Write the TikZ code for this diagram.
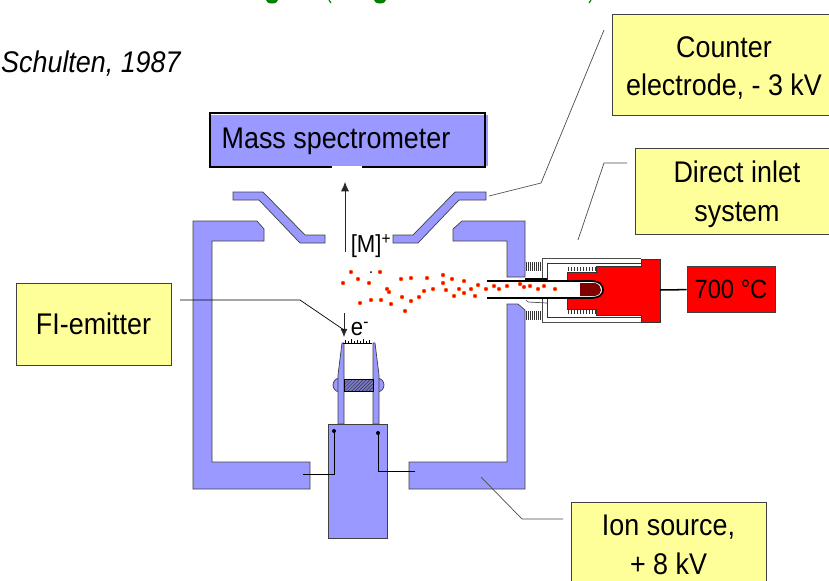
\documentclass[tikz,border=0pt]{standalone}
\usepackage{fontspec}
\setmainfont[FakeStretch=0.9]{Liberation Sans}
\usetikzlibrary{arrows.meta,patterns}
\definecolor{sourceblue}{HTML}{9999FF}
\definecolor{notepaper}{HTML}{FFFF99}
\definecolor{titlegreen}{HTML}{008000}
\tikzset{
  metal/.style={fill=sourceblue, draw=black!75, line width=0.6pt},
  notebox/.style={draw=black!75, fill=notepaper, line width=0.7pt, align=center, inner sep=0pt, font=\fontsize{25.5}{33}\selectfont},
  leader/.style={draw=black!70, line width=0.6pt},
  wire/.style={draw=black, line width=0.8pt},
  iondot/.style={fill=red, draw=orange, line width=0.3pt},
  tubeline/.style={draw=black, line width=1.5pt},
  spring/.style={draw=black!80, line width=0.7pt}
}
\begin{document}
\begin{tikzpicture}[x=0.03cm,y=-0.03cm]
\useasboundingbox (0,0) rectangle (829,581);

% Cut-off title and citation
\fill[titlegreen] (272,0) ellipse (6 and 3.5);
\fill[titlegreen] (380,0) ellipse (6 and 3.5);
\draw[titlegreen, line width=1pt] (329,0) -- (331,3);
\draw[titlegreen, line width=1pt] (591,0) -- (589,3);
\node[anchor=base west, inner sep=0pt, font=\fontsize{25.5}{28}\selectfont\itshape] (citation) at (1,72) {Schulten, 1987};

% Mass spectrometer
\fill[sourceblue] (211,115) rectangle (488,166);
\draw[black, line width=1.1pt] (362,167) -- (485,167) -- (485,113) -- (210,113) -- (210,167) -- (332,167);
\node[inner sep=0pt, font=\fontsize{25.5}{28}\selectfont] (massspec) at (336,141) {Mass spectrometer};

% Counter electrode plates
\draw[metal] (233,192) -- (263,192) -- (305,235) -- (325,235) -- (325,243) -- (300,243) -- (259,200) -- (233,200) -- cycle;
\draw[metal] (486,192) -- (455,192) -- (413,235) -- (393,235) -- (393,243) -- (418,243) -- (459,200) -- (486,200) -- cycle;

% Ion source walls
\draw[metal] (193,221) -- (257,221) -- (264,229) -- (264,241) -- (212,241) -- (212,462) -- (310,462) -- (310,489) -- (193,489) -- cycle;
\draw[metal] (462,221) -- (525,221) -- (525,277) -- (507,277) -- (507,241) -- (453,241) -- (453,229) -- cycle;
\draw[metal] (507,304) -- (518,304) -- (525,310) -- (525,489) -- (409,489) -- (409,462) -- (507,462) -- cycle;

% FI emitter on its block
\draw[metal] (340,385) ellipse (7 and 7);
\draw[metal] (377,385) ellipse (7 and 7);
\draw[metal] (338,424) -- (338,375) -- (342,343) -- (344,343) -- (344,424) -- cycle;
\draw[metal] (373,424) -- (373,343) -- (375,343) -- (379,375) -- (379,424) -- cycle;
\fill[sourceblue!80!black] (344,379) rectangle (373,391);
\draw[draw=black, line width=0.8pt, pattern=north east lines, pattern color=black!80] (344,379) rectangle (373,391);
\draw[metal] (328,424) rectangle (387,538);
\draw[black, line width=0.5pt] (343,343) -- (372,343) (345,343) -- (345,340) (348,343) -- (348,341) (351,343) -- (351,339) (354,343) -- (354,341) (357,343) -- (357,340) (360,343) -- (360,341) (363,343) -- (363,339) (366,343) -- (366,341) (369,343) -- (369,340);
\coordinate (leftpin) at (334,431);
\coordinate (rightpin) at (378,433);
\coordinate (leftwall) at (303,474);
\coordinate (rightwall) at (415,471);
\fill (leftpin) circle (2);
\fill (rightpin) circle (2);
\draw[wire] (leftpin) |- (leftwall);
\draw[wire] (rightpin) |- (rightwall);

% Direct inlet housing
\draw[draw=black!70, fill=white, line width=0.8pt] (641,258) -- (542,258) -- (542,322) -- (641,322);
\draw[draw=black!80, line width=0.7pt] (641,263) -- (547,263) -- (547,317) -- (641,317);
\draw[draw=black!80, fill=red, line width=0.7pt] (641,259) -- (660,259) -- (660,322) -- (641,322) -- (641,315) -- (596,315) -- (596,309) -- (567,309) -- (567,272) -- (596,272) -- (596,266) -- (641,266) -- cycle;
\draw[spring] (568,267) -- (568,271) (571,267) -- (571,271) (574,267) -- (574,271) (577,267) -- (577,271) (580,267) -- (580,271) (583,267) -- (583,271) (586,267) -- (586,271) (589,267) -- (589,271) (592,267) -- (592,271) (595,267) -- (595,271);
\draw[spring] (568,310) -- (568,314) (571,310) -- (571,314) (574,310) -- (574,314) (577,310) -- (577,314) (580,310) -- (580,314) (583,310) -- (583,314) (586,310) -- (586,314) (589,310) -- (589,314) (592,310) -- (592,314) (595,310) -- (595,314);
\draw[spring] (526,262) -- (526,271) (528,262) -- (528,271) (530,262) -- (530,271) (532,262) -- (532,271) (534,262) -- (534,271) (536,262) -- (536,271) (538,262) -- (538,271) (540,262) -- (540,271);
\draw[spring] (526,311) -- (526,320) (528,311) -- (528,320) (530,311) -- (530,320) (532,311) -- (532,320) (534,311) -- (534,320) (536,311) -- (536,320) (538,311) -- (538,320) (540,311) -- (540,320);
\draw[draw=black!70, line width=0.6pt] (526,300) -- (528,302) -- (547,303);
\fill[black] (525,278) rectangle (547,282);

% Probe tube and sample
\fill[white] (487,281) -- (590,281) .. controls (600,281) and (603,285) .. (603,290) .. controls (603,294) and (600,298) .. (590,298) -- (487,298) -- cycle;
\fill[red!50!black] (580,283) -- (595,283) .. controls (599,284) and (601,287) .. (601,290) .. controls (601,293) and (599,295) .. (595,296) -- (580,296) -- cycle;
\draw[tubeline] (487,281) -- (590,281) .. controls (600,281) and (603,285) .. (603,290) .. controls (603,294) and (600,298) .. (590,298) -- (487,298);

% Ions
\fill[black] (371,272) circle (1);
\draw[iondot] (351,272) circle (2);
\draw[iondot] (380,272) circle (2);
\draw[iondot] (343,283) circle (2);
\draw[iondot] (358,279) circle (2);
\draw[iondot] (369,283) circle (2);
\draw[iondot] (387,289) circle (2);
\draw[iondot] (389,292) circle (2);
\draw[iondot] (401,279) circle (2);
\draw[iondot] (411,278) circle (2);
\draw[iondot] (427,278) circle (2);
\draw[iondot] (443,275) circle (2);
\draw[iondot] (452,279) circle (2);
\draw[iondot] (464,281) circle (2);
\draw[iondot] (443,283) circle (2);
\draw[iondot] (446,290) circle (2);
\draw[iondot] (459,289) circle (2);
\draw[iondot] (464,293) circle (2);
\draw[iondot] (454,296) circle (2);
\draw[iondot] (471,289) circle (2);
\draw[iondot] (478,285) circle (2);
\draw[iondot] (475,296) circle (2);
\draw[iondot] (486,289) circle (2);
\draw[iondot] (494,286) circle (2);
\draw[iondot] (499,289) circle (2);
\draw[iondot] (507,286) circle (2);
\draw[iondot] (433,289) circle (2);
\draw[iondot] (424,291) circle (2);
\draw[iondot] (419,297) circle (2);
\draw[iondot] (411,301) circle (2);
\draw[iondot] (402,297) circle (2);
\draw[iondot] (405,311) circle (2);
\draw[iondot] (391,304) circle (2);
\draw[iondot] (381,300) circle (2);
\draw[iondot] (371,300) circle (2);
\draw[iondot] (360,303) circle (2);
\draw[iondot] (520,284) circle (2);
\draw[iondot] (524,287) circle (2);
\draw[iondot] (530,286) circle (2);
\draw[iondot] (538,289) circle (2);
\draw[iondot] (544,286) circle (2);
\draw[iondot] (555,289) circle (2);

% Ion path and labels at the source
\node[inner sep=0pt, font=\fontsize{21}{24}\selectfont] (molion) at (371,246) {[M]\textsuperscript{+}};
\node[inner sep=0pt, font=\fontsize{21}{24}\selectfont] (electron) at (360,329) {e\textsuperscript{-}};
\coordinate (iontail) at (345,252);
\coordinate (ionhead) at (345,182);
\draw[-{Latex[length=8pt,width=7pt]}, black!85, line width=0.7pt] (iontail) -- (ionhead);
\coordinate (emittertail) at (344,313);
\coordinate (emitterhead) at (344,337);
\draw[-{Latex[length=7pt,width=6pt]}, black!85, line width=0.7pt] (emittertail) -- (emitterhead);

% Note boxes
\node[notebox, minimum width=6.72cm, minimum height=3.03cm] (counter) at (724,64.5) {\rule{0pt}{24pt}Counter\\electrode, - 3 kV};
\node[notebox, minimum width=6.12cm, minimum height=2.58cm] (inlet) at (737,191) {\rule{0pt}{24pt}Direct inlet\\system};
\node[notebox, minimum width=5.85cm, minimum height=2.58cm] (ionsource) at (668.5,545) {Ion source,\\+ 8 kV};
\node[notebox, minimum width=4.65cm, minimum height=2.46cm] (emitter) at (93.5,324) {FI-emitter};
\node[draw=black!75, fill=red, line width=0.7pt, inner sep=0pt, minimum width=2.64cm, minimum height=1.38cm, font=\fontsize{22.5}{25}\selectfont] (heater) at (731,289) {700 °C};
\coordinate (heaterport) at (660,290);
\draw[black, line width=1.3pt] (heaterport) -- (heater);

% Leaders, with free ends
\coordinate (counterend) at (604,30);
\coordinate (counterbend) at (541,183);
\coordinate (plateend) at (489,196);
\draw[leader] (counterend) -- (counterbend) -- (plateend);
\coordinate (inletend) at (627,163);
\coordinate (inletbend) at (604,163);
\coordinate (housingend) at (578,240);
\draw[leader] (inletend) -- (inletbend) -- (housingend);
\coordinate (sourceend) at (563,519);
\coordinate (sourcebend) at (522,519);
\coordinate (wallend) at (481,477);
\draw[leader] (sourceend) -- (sourcebend) -- (wallend);
\coordinate (emitterstart) at (180,300);
\coordinate (emitterbend) at (300,300);
\coordinate (emitterend) at (344,330);
\draw[leader, draw=black] (emitterstart) -- (emitterbend) -- (emitterend);
\end{tikzpicture}
\end{document}
